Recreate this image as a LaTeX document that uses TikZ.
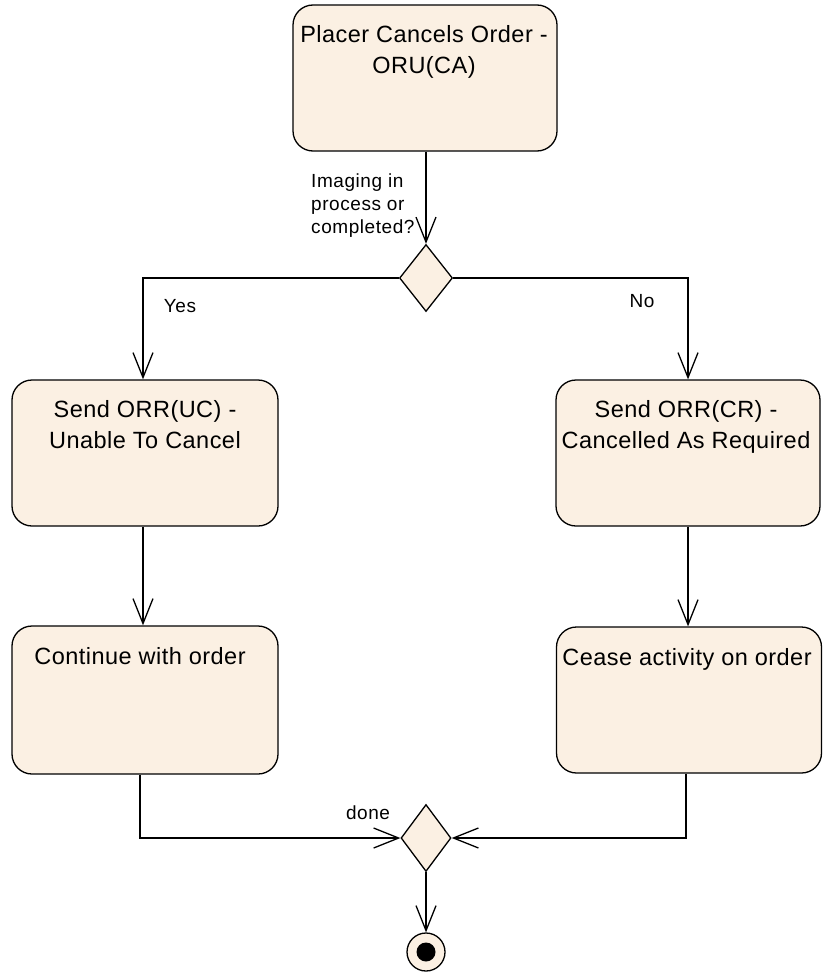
\documentclass[tikz,border=0pt]{standalone}
\usepackage{fontspec}
\setmainfont{Liberation Sans}
\usetikzlibrary{arrows.meta,shapes.geometric}
\definecolor{actfill}{RGB}{251,240,227}
\tikzset{
  act/.style={draw=black, fill=actfill, rounded corners=20pt, line width=1.3pt, inner sep=0pt},
  boxtxt/.style={font=\fontsize{23.5}{31}\selectfont\addfontfeature{LetterSpace=2}, align=center, inner sep=0pt, anchor=north},
  small/.style={font=\fontsize{19}{23}\selectfont\addfontfeature{LetterSpace=3}, inner sep=0pt},
  dec/.style={draw=black, fill=actfill, shape=diamond, line width=1.3pt, inner sep=0pt, minimum width=53pt, minimum height=67pt},
  flow/.style={line width=1.3pt, -{Straight Barb[length=25pt,width=20pt,line width=1.3pt]}},
}
\begin{document}
\begin{tikzpicture}[x=1pt,y=-1pt]
\useasboundingbox (0,0) rectangle (827,979);
% activity boxes
\node[act, minimum width=264pt, minimum height=146pt] (top) at (425,78) {};
\node[boxtxt] (topT) at (424,25) {Placer Cancels Order -\\ORU(CA)};
\node[act, minimum width=266pt, minimum height=146pt] (l1) at (145,453) {};
\node[boxtxt] (l1T) at (145,400) {Send ORR(UC) -\\Unable To Cancel};
\node[act, minimum width=264pt, minimum height=146pt] (r1) at (688,453) {};
\node[boxtxt] (r1T) at (686,400) {Send ORR(CR) -\\Cancelled As Required};
\node[act, minimum width=266pt, minimum height=148pt] (l2) at (145,700) {};
\node[boxtxt] (l2T) at (140,647) {Continue with order};
\node[act, minimum width=265pt, minimum height=146pt] (r2) at (689,700) {};
\node[boxtxt] (r2T) at (687,648) {Cease activity on order};
% decisions
\node[dec] (d1) at (426,278) {};
\node[dec, minimum width=50pt] (d2) at (426,838) {};
% final node
\node[draw=black, fill=actfill, circle, line width=1.3pt, minimum size=38pt, inner sep=0pt] (fin) at (426,952) {};
\node[fill=black, circle, minimum size=19pt, inner sep=0pt] (finC) at (fin.center) {};
% connectors
\draw[flow] (top.south -| d1.north) -- (d1.north);
\draw[flow] (d1.west) -- (d1.west -| 143,0) -- ([xshift=-2pt]l1.north);
\draw[flow] (d1.east) -- (d1.east -| 688,0) -- (r1.north);
\draw[flow] ([xshift=-2pt]l1.south) -- ([xshift=-2pt]l2.north);
\draw[flow] (r1.south) -- (r2.north -| r1.south);
\draw[flow] ([xshift=-5pt]l2.south) |- (d2.west);
\draw[flow] ([xshift=-3pt]r2.south) |- (d2.east);
\draw[flow] (d2.south) -- (fin.north);
% labels
\node[small, anchor=north west, align=left] (q) at (311,174) {Imaging in\\process or\\completed?};
\node[small] (yes) at (180,306) {Yes};
\node[small] (no) at (642,301) {No};
\node[small] (done) at (368,813) {done};
\end{tikzpicture}
\end{document}
